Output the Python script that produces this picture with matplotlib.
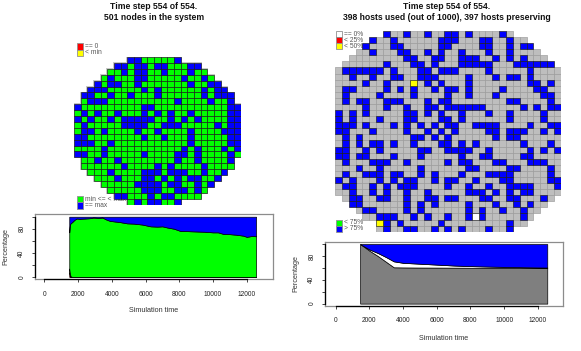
import numpy as np
import matplotlib
matplotlib.use("Agg")
import matplotlib.pyplot as plt
from matplotlib.patches import Rectangle
from matplotlib.collections import PatchCollection

plt.rcParams['font.family'] = ['Liberation Sans', 'DejaVu Sans']

# ---------------- data ----------------
left_title = ["Time step 554 of 554.", "501 nodes in the system"]
right_title = ["Time step 554 of 554.", "398 hosts used (out of 1000), 397 hosts preserving"]

# left node grid: '.' outside, G = min <= < max, B = == max
left_grid = [
    "........BBGGGGGB",
    "......BBGBBGBBGGGBB",
    ".....GGBGBBGGBGGGBGG",
    "....GBGGGBBGGGGGBGGBG",
    "...BGBBGGBGGGGGGGBGGBB",
    "..BBBGGGGGBGBGGGGGGBGBB",
    ".BBGGBGGBGGGBGGGGGGBGBBB",
    ".GBBBGGGGGGGGGGBGGGGBGGB",
    "BGGGGGGGGGBBGGGGGGGGGGGBB",
    "GBGBGGBGGGBGBGBGGBGGGGGBB",
    "BGBGGBGBBBBBGGBGBGBGGGGBB",
    "GBGGGGGBBBBGGBBBGGGGGBGBB",
    "GBBGBGGGGBGGBGGGGBGGGGBBB",
    "BBGGGGGGGGBGGBGGGBGGGGGBB",
    "BBBGGBGGGGGGGGGGGBGGGGGBB",
    "GGGGBGGGGGGGGGGGBGBGGGBGB",
    "BBGGBGGGGGBGGGGBBGBGGGGBG",
    ".GGBGGBGGGGGGGGBGGBGGGGB",
    ".GGGGGGBGGGGBGBGGGGBGGGG",
    "..GGGBGGGGBBBGBBBGGBGGB",
    "...GGGBGGGBBGBGBGBBGGB",
    "....GGGGGBBBBGBBGGBGB",
    ".....GGGGGBBBGGBBGBG",
    "......BBGGGBGBBGGGG",
    "........GBGBBGGB",
]

# right host grid: row extents, blue (>75%) columns, special cells
right_row_start = [7, 5, 4, 3, 2, 1] + [0] * 21 + [1, 2, 3, 4, 6, 6]
right_row_end = [25, 27, 28, 29, 30, 31] + [32] * 21 + [31, 30, 29, 28, 27, 25]
right_blue = [
    [7, 10, 13, 16, 17, 19, 24],
    [5, 8, 15, 16, 17, 21, 22, 25],
    [4, 8, 9, 15, 16, 21, 22, 25, 27, 28],
    [5, 9, 10, 13, 15, 18, 22, 25],
    [10, 11, 14, 15, 18, 19, 20, 23, 25, 27],
    [7, 11, 12, 14, 18, 19, 20, 21, 22, 26, 27, 28, 29, 30, 31],
    [1, 2, 3, 4, 5, 6, 8, 12, 13, 15, 16, 17, 22, 28],
    [2, 5, 8, 9, 12, 13, 14, 19, 23, 25, 26, 28],
    [4, 7, 13, 15, 19, 28, 29, 31],
    [1, 2, 7, 9, 11, 14, 16, 17, 19, 24, 29, 30],
    [1, 6, 11, 16, 19, 23, 30, 31],
    [1, 3, 4, 7, 8, 9, 13, 15, 16, 25, 26, 31],
    [4, 7, 10, 13, 14, 16, 17, 18, 19, 20, 21, 27, 29, 31, 32],
    [0, 2, 4, 10, 11, 13, 15, 18, 22, 25, 30],
    [0, 2, 6, 10, 11, 15, 16, 18, 25, 30],
    [0, 1, 2, 4, 8, 10, 12, 14, 16, 17, 20, 21, 22, 23, 28, 31, 32],
    [0, 1, 5, 10, 13, 15, 17, 22, 23, 25, 26, 27, 30, 32],
    [1, 3, 11, 12, 14, 16, 23, 25, 26],
    [1, 3, 5, 6, 8, 11, 15, 16, 18, 20, 27, 31],
    [0, 1, 4, 6, 12, 13, 16, 17, 18, 19, 22, 28, 30, 32],
    [0, 1, 3, 4, 8, 12, 18, 21, 22, 27, 28],
    [1, 5, 6, 7, 10, 16, 18, 19, 23, 24, 28, 29, 30],
    [3, 6, 12, 19, 20, 25, 26, 31],
    [1, 4, 5, 6, 8, 9, 12, 14, 18, 22, 23, 24, 25, 31],
    [0, 2, 6, 8, 10, 11, 14, 16, 17, 20, 24, 25, 31, 32],
    [1, 2, 5, 7, 9, 10, 11, 16, 19, 22, 25, 26, 27, 28, 32],
    [2, 5, 7, 10, 13, 19, 20, 21, 23, 25, 27, 28],
    [2, 3, 6, 7, 10, 13, 14, 16, 17, 21, 22, 25, 26, 30],
    [2, 3, 10, 12, 14, 19, 23, 26, 28],
    [4, 5, 10, 12, 19, 21, 24, 27],
    [6, 7, 8, 11, 13, 16, 19, 21, 27],
    [7, 9, 15, 25],
    [7, 10, 11, 14, 16, 18, 22, 25],
]
right_yellow = [(8, 11), (31, 6)]
right_white = [(30, 20)]

# left time series (percentage of nodes)
t_left = [1480, 1520, 1560, 1650, 1800, 1920, 2100, 2400, 2700, 2900, 3200, 3450,
          3700, 3900, 4200, 4500, 4900, 5300, 5800, 6300, 6700, 7000, 7300, 7700,
          8050, 8500, 9000, 9500, 10000, 10300, 10600, 11000, 11400, 11800, 12000,
          12300, 12556]
red_left = [8, 2, 0, 0, 0, 0, 0, 0, 0, 0, 0, 0, 0, 0, 0, 0, 0, 0, 0, 0, 0, 0, 0, 0,
            0, 0, 0, 0, 0, 0, 0, 0, 0, 0, 0, 0, 0]
yellow_left = [6, 3, 1, 0, 0, 0, 0, 0, 0, 0, 0, 0, 0, 0, 0, 0, 0, 0, 0, 0, 0, 0, 0,
               0, 0, 0, 0, 0, 0, 0, 0, 0, 0, 0, 0, 0, 0]
green_left = [60, 82, 88, 91, 95, 97, 96.5, 97, 97.5, 98.5, 98, 98.5, 95, 93, 92, 91,
              89, 88.5, 87, 84, 83.5, 84, 82, 80, 76.5, 76, 75.5, 75, 74, 74, 71.5,
              71, 70, 68.5, 66.5, 68, 67.5]

# right time series (percentage of hosts)
t_right = [1450, 2000, 2500, 3000, 3450, 4000, 5000, 6000, 7000, 8000, 9000, 10000,
           11000, 12000, 12560]
gray_right = [100, 89, 80, 70, 61, 60.8, 60.6, 60.5, 60.4, 60.3, 60.2, 60.2, 60.1,
              60, 60]
blue_low_right = [100, 91, 85, 78, 71, 68.5, 67, 65.5, 64, 63, 62.3, 61.7, 61.2,
                  60.8, 60.6]

x_ticks = [0, 2000, 4000, 6000, 8000, 10000, 12000]
y_ticks = [0, 20, 40, 60, 80, 100]
y_tick_labels = ["0", "", "40", "", "80", ""]

# ---------------- figure ----------------
W, H = 581, 351
fig = plt.figure(figsize=(W / 100, H / 100), dpi=100)


def frac(x0, y0, x1, y1):
    return [x0 / W, 1 - y1 / H, (x1 - x0) / W, (y1 - y0) / H]


ov = fig.add_axes([0, 0, 1, 1], zorder=0)
ov.set_xlim(0, W)
ov.set_ylim(H, 0)
ov.axis('off')

TXT = '#333333'
LEG = '#555555'

# titles
for i, s in enumerate(left_title):
    ov.text(154, 6.5 + 11 * i, s, ha='center', va='center', fontsize=6.2,
            fontweight='bold', color='#111111')
for i, s in enumerate(right_title):
    ov.text(447, 6.5 + 11 * i, s, ha='center', va='center', fontsize=6.2,
            fontweight='bold', color='#111111')


def legend(x, y, items, step):
    for k, (fc, lab) in enumerate(items):
        ov.add_patch(Rectangle((x, y + k * step), 6.3, step, facecolor=fc,
                               edgecolor='#909090', lw=0.6))
        ov.text(x + 8, y + k * step + step / 2, lab, ha='left', va='center',
                fontsize=4.8, color=LEG)


legend(77, 43, [('#FF0000', '== 0'), ('#FFFF00', '< min')], 6.5)
legend(77, 196, [('#00FF00', 'min <= < max'), ('#0000FF', '== max')], 6.3)
legend(336, 31, [('#FFFFFF', '== 0%'), ('#FF0000', '< 25%'), ('#FFFF00', '< 50%')], 6.0)
legend(336, 219.5, [('#00FF00', '< 75%'), ('#0000FF', '> 75%')], 6.0)


def draw_cells(ax, codes, layers):
    for code, fc, ec in layers:
        rects = [Rectangle((c, r), 1, 1) for r, c in zip(*np.where(codes == code))]
        ax.add_collection(PatchCollection(rects, facecolor=fc, edgecolor=ec,
                                          linewidth=0.45))


# left grid
nl = 25
codes_l = np.full((nl, nl), -1)
cmap_l = {'G': 1, 'B': 2}
for r, row in enumerate(left_grid):
    for c, ch in enumerate(row.ljust(nl, '.')[:nl]):
        if ch in cmap_l:
            codes_l[r, c] = cmap_l[ch]
axl = fig.add_axes(frac(74, 57, 240.7, 204.5), zorder=1)
axl.patch.set_alpha(0)
# faint halo around the node disc
halo = [Rectangle((c - 0.15, r - 0.15), 1.3, 1.3) for r, c in zip(*np.where(codes_l >= 0))]
axl.add_collection(PatchCollection(halo, facecolor='#c8c8c8', edgecolor='none'))
draw_cells(axl, codes_l, [(1, '#00FF00', '#1a1a1a'), (2, '#0000FF', '#1a1a1a')])
axl.set_xlim(0, nl)
axl.set_ylim(nl, 0)
axl.axis('off')

# right grid
nr = 33
codes_r = np.full((nr, nr), -1)
for r in range(nr):
    codes_r[r, right_row_start[r]:right_row_end[r] + 1] = 0
    for c in right_blue[r]:
        codes_r[r, c] = 2
for r, c in right_yellow:
    codes_r[r, c] = 3
for r, c in right_white:
    codes_r[r, c] = 4
axr = fig.add_axes(frac(335, 31, 560.7, 231.7), zorder=1)
axr.patch.set_alpha(0)
draw_cells(axr, codes_r, [(0, '#BEBEBE', '#9a9a9a'), (2, '#0000FF', '#1a1a1a'),
                          (3, '#FFFF00', '#1a1a1a'), (4, '#FFFFFF', '#1a1a1a')])
axr.set_xlim(0, nr)
axr.set_ylim(nr, 0)
axr.axis('off')


def style_ts(ax):
    for sp in ax.spines.values():
        sp.set_color('#8c8c8c')
        sp.set_linewidth(0.9)
    ax.set_ylim(-4, 104)
    ax.set_xticks(x_ticks)
    ax.set_xticklabels([str(v) for v in x_ticks])
    ax.set_yticks(y_ticks)
    ax.set_yticklabels(y_tick_labels, rotation=90, va='center')
    ax.tick_params(axis='x', length=2.5, width=0.6, pad=5.6, labelsize=4.8,
                   colors='#222222')
    ax.tick_params(axis='y', length=2.5, width=0.6, pad=4.5, labelsize=4.8,
                   colors='#222222')
    xl = ax.get_xlim()
    ax.plot([0, 12000], [-4, -4], color='black', lw=0.9, clip_on=False, zorder=5)
    ax.plot([xl[0], xl[0]], [0, 100], color='black', lw=0.9, clip_on=False, zorder=5)


# left time series
ax1 = fig.add_axes(frac(35, 214.3, 272.7, 279.3), zorder=2)
ax1.set_xlim(-551, 13541)
t = np.array(t_left)
r_ = np.array(red_left, float)
y_ = np.array(yellow_left, float)
g_ = np.array(green_left, float)
b_ = 100 - r_ - y_ - g_
ax1.stackplot(t, r_, y_, g_, b_, colors=['#FF0000', '#FFFF00', '#00FF00', '#0000FF'],
              edgecolor='black', linewidth=0.5)
style_ts(ax1)
ov.text(153.5, 311, 'Simulation time', ha='center', va='center', fontsize=5.2, color=TXT)
ov.text(6, 246.7, 'Percentage', ha='center', va='center', fontsize=5.2, color=TXT,
        rotation=90)

# right time series
ax2 = fig.add_axes(frac(325, 241.7, 563.3, 306), zorder=2)
ax2.set_xlim(-637, 13512)
t2 = np.array(t_right)
gr = np.array(gray_right, float)
wh = np.array(blue_low_right, float) - gr
bl = 100 - gr - wh
ax2.stackplot(t2, gr, wh, bl, colors=['#7F7F7F', '#FFFFFF', '#0000FF'],
              edgecolor='black', linewidth=0.5)
style_ts(ax2)
ov.text(443.7, 338.3, 'Simulation time', ha='center', va='center', fontsize=5.2, color=TXT)
ov.text(296, 273.3, 'Percentage', ha='center', va='center', fontsize=5.2, color=TXT,
        rotation=90)

fig.savefig('out.png', dpi=100)
